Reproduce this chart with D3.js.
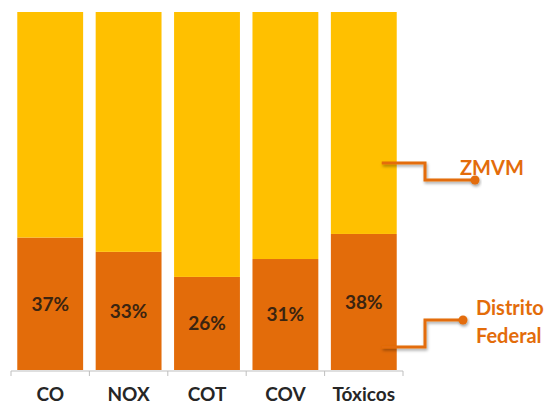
<!DOCTYPE html>
<html><head><meta charset="utf-8">
<script src="https://cdn.jsdelivr.net/npm/d3@7"></script>
<style>body{margin:0;background:#fff;} svg{display:block;}</style>
</head><body>
<svg id="c" width="550" height="406"></svg>
<script>
const categories = ["CO","NOX","COT","COV","Tóxicos"];
const distritoFederal = [37,33,26,31,38];
const zmvm = [63,67,74,69,62];
const seriesNames = ["Distrito Federal","ZMVM"];
const colors = ["#E36C0A","#FFC000"];

const svg = d3.select("#c");
const margin = {left:11, right:147, top:12, bottom:36};
const W = 550, H = 406;
const x = d3.scaleBand().domain(categories).range([margin.left, W-margin.right]).paddingInner(0.16).paddingOuter(0.08);
const y = d3.scaleLinear().domain([0,100]).range([H-margin.bottom, margin.top]);

const rows = categories.map((c,i)=>({cat:c, df:distritoFederal[i], zm:zmvm[i]}));
const stack = d3.stack().keys(["df","zm"])(rows);

const defs = svg.append("defs");
const f = defs.append("filter").attr("id","sh").attr("x","-20%").attr("y","-50%").attr("width","140%").attr("height","200%");
f.append("feDropShadow").attr("dx",1).attr("dy",2).attr("stdDeviation",1.5).attr("flood-color","#000").attr("flood-opacity",0.35);

stack.forEach((s,k)=>{
  svg.append("g").selectAll("rect").data(s).join("rect")
    .attr("x",d=>x(d.data.cat))
    .attr("y",d=>y(d[1]))
    .attr("width",x.bandwidth())
    .attr("height",d=>y(d[0])-y(d[1]))
    .attr("fill",colors[k]);
});

// value labels
svg.append("g").selectAll("text").data(stack[0]).join("text")
  .attr("x",d=>x(d.data.cat)+x.bandwidth()/2)
  .attr("y",d=>(y(d[0])+y(d[1]))/2)
  .attr("dy","0.36em")
  .attr("text-anchor","middle")
  .attr("font-family","Lato, 'Open Sans', sans-serif")
  .attr("font-weight","bold")
  .attr("font-size",19)
  .attr("fill","#3b2410")
  .text(d=>d.data.df+"%");

// axis
const axisY = y(0)+1;
const ax = svg.append("g").attr("transform",`translate(0,${axisY})`);
ax.append("line").attr("x1",margin.left).attr("x2",W-margin.right).attr("stroke","#bfbfbf").attr("stroke-width",1);
const edges = d3.range(categories.length+1).map(i=>margin.left + i*(W-margin.right-margin.left)/categories.length);
ax.selectAll("line.t").data(edges).join("line").attr("class","t")
  .attr("x1",d=>d).attr("x2",d=>d).attr("y1",0).attr("y2",5).attr("stroke","#bfbfbf");
ax.selectAll("text").data(categories).join("text")
  .attr("x",d=>x(d)+x.bandwidth()/2)
  .attr("y",30)
  .attr("text-anchor","middle")
  .attr("font-family","Lato, 'Open Sans', sans-serif")
  .attr("font-weight","bold")
  .attr("font-size",19)
  .attr("fill","#262626")
  .text(d=>d);

// callout legend
const lastX = x(categories[categories.length-1]) + x.bandwidth();
function callout(yStart, yEnd, dotX, lines, textX, textY, lh){
  const g = svg.append("g");
  const path = `M${lastX-15},${yStart} H${425} V${yEnd} H${dotX}`;
  g.append("path").attr("d",path).attr("fill","none").attr("stroke","#E36C0A").attr("stroke-width",3).attr("filter","url(#sh)");
  g.append("circle").attr("cx",dotX).attr("cy",yEnd).attr("r",4.5).attr("fill","#E36C0A").attr("filter","url(#sh)");
  lines.forEach((t,i)=>{
    g.append("text").attr("x",textX).attr("y",textY+i*lh)
      .attr("font-family","Lato, 'Open Sans', sans-serif").attr("font-weight","bold")
      .attr("font-size",20).attr("fill","#E36C0A").text(t);
  });
}
callout(163, 180, 475, ["ZMVM"], 460, 175, 0);
callout(347, 320, 463, ["Distrito","Federal"], 476, 315, 28);
</script>
</body></html>
